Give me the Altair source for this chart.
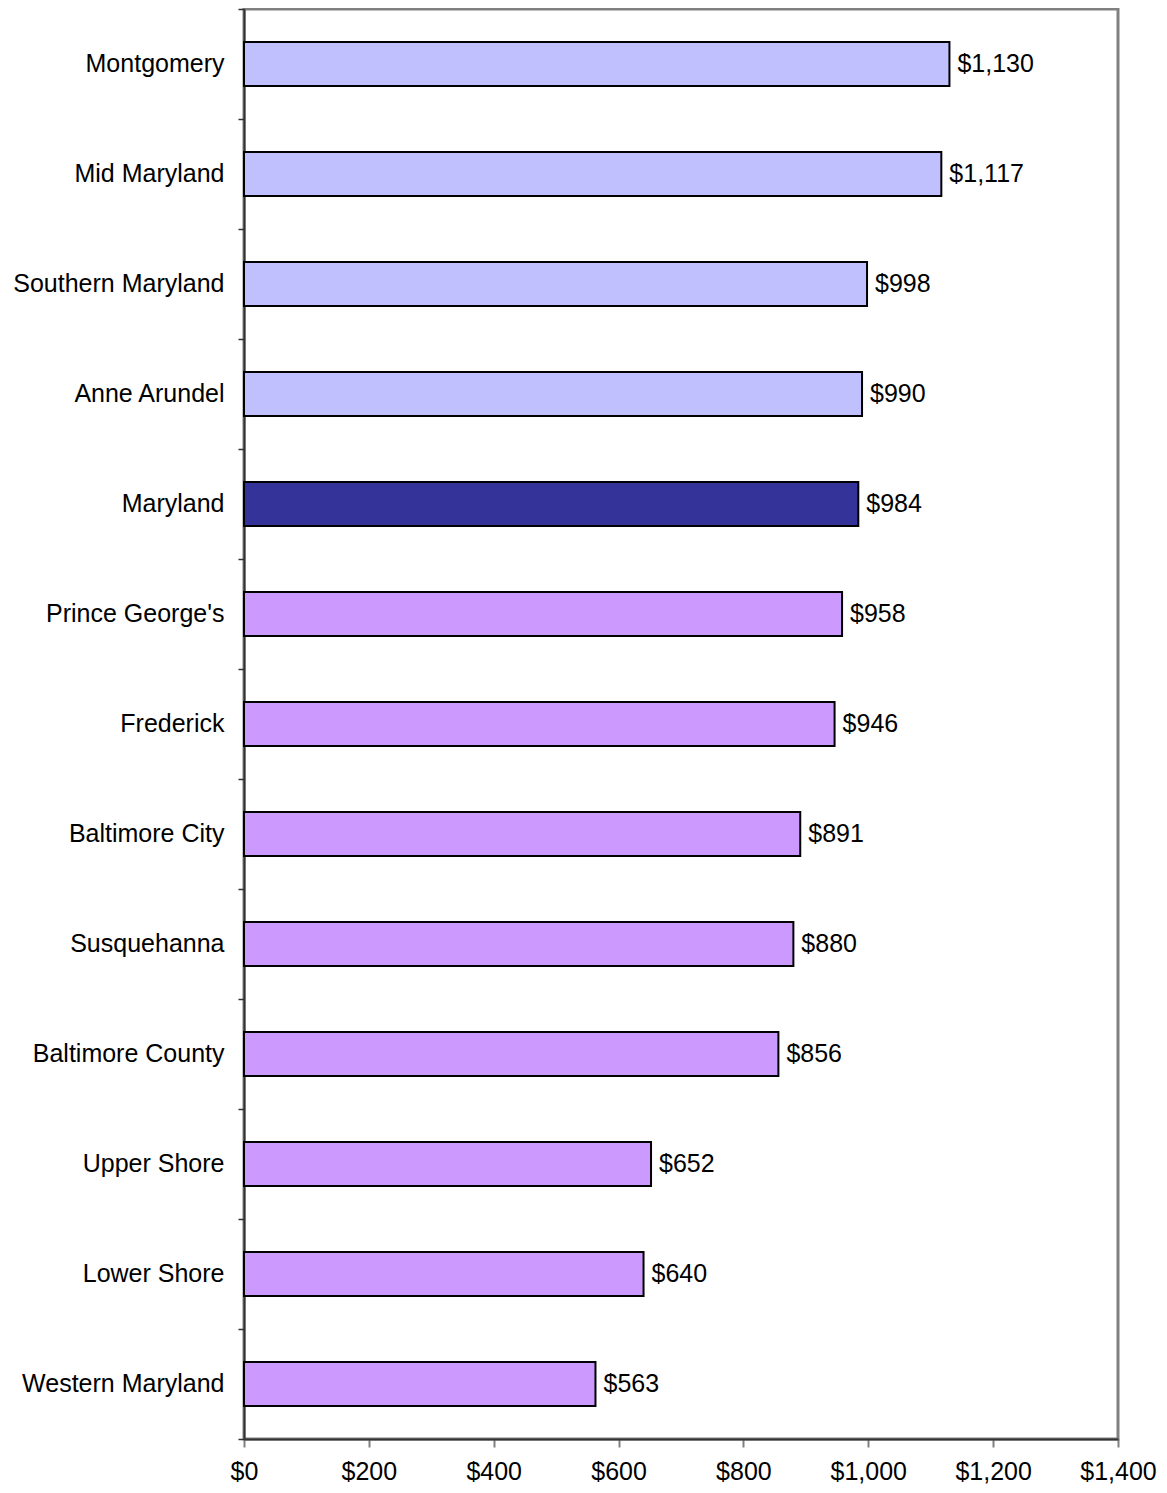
import altair as alt
import pandas as pd

regions = ["Montgomery", "Mid Maryland", "Southern Maryland", "Anne Arundel", "Maryland",
           "Prince George's", "Frederick", "Baltimore City", "Susquehanna", "Baltimore County",
           "Upper Shore", "Lower Shore", "Western Maryland"]
values = [1130, 1117, 998, 990, 984, 958, 946, 891, 880, 856, 652, 640, 563]
groups = ["above"] * 4 + ["state"] + ["below"] * 8

df = pd.DataFrame({"region": regions, "value": values, "group": groups})
df["label"] = df["value"].map(lambda v: "${:,.0f}".format(v))

FONT = "Liberation Sans"

y = alt.Y("region:N", sort=regions, title=None,
          scale=alt.Scale(paddingInner=0, paddingOuter=0),
          axis=alt.Axis(tickBand="extent", labelFontSize=25, labelFont=FONT, labelColor="black",
                        labelPadding=14, tickSize=6, tickColor="#333333", domainColor="#333333",
                        domainWidth=2, tickWidth=1.5, labelLimit=400, labelOffset=-1))
x = alt.X("value:Q", title=None, scale=alt.Scale(domain=[0, 1400], nice=False),
          axis=alt.Axis(values=[0, 200, 400, 600, 800, 1000, 1200, 1400], format="$,.0f",
                        labelFontSize=25, labelFont=FONT, labelColor="black", labelPadding=12,
                        tickSize=8, tickColor="#808080", domainColor="#333333", domainWidth=2,
                        tickWidth=2, grid=False, labelFlush=False))

bars = alt.Chart(df).mark_bar(height=44, stroke="black", strokeWidth=2).encode(
    x=x, y=y,
    color=alt.Color("group:N", legend=None,
                    scale=alt.Scale(domain=["above", "state", "below"],
                                    range=["#C0C0FF", "#333399", "#CC99FF"])),
)
labels = alt.Chart(df).mark_text(align="left", baseline="middle", dx=8, fontSize=25,
                                 font=FONT, color="black").encode(
    x="value:Q", y=alt.Y("region:N", sort=regions), text="label:N")

chart = alt.layer(bars, labels).properties(
    width=874, height=1430,
    autosize=alt.AutoSizeParams(type="none"),
    padding={"left": 236, "top": 1, "right": 41, "bottom": 46},
).configure_view(stroke="#808080", strokeWidth=3)

chart.save("out.html", embed_options={"renderer": "svg", "actions": False})
